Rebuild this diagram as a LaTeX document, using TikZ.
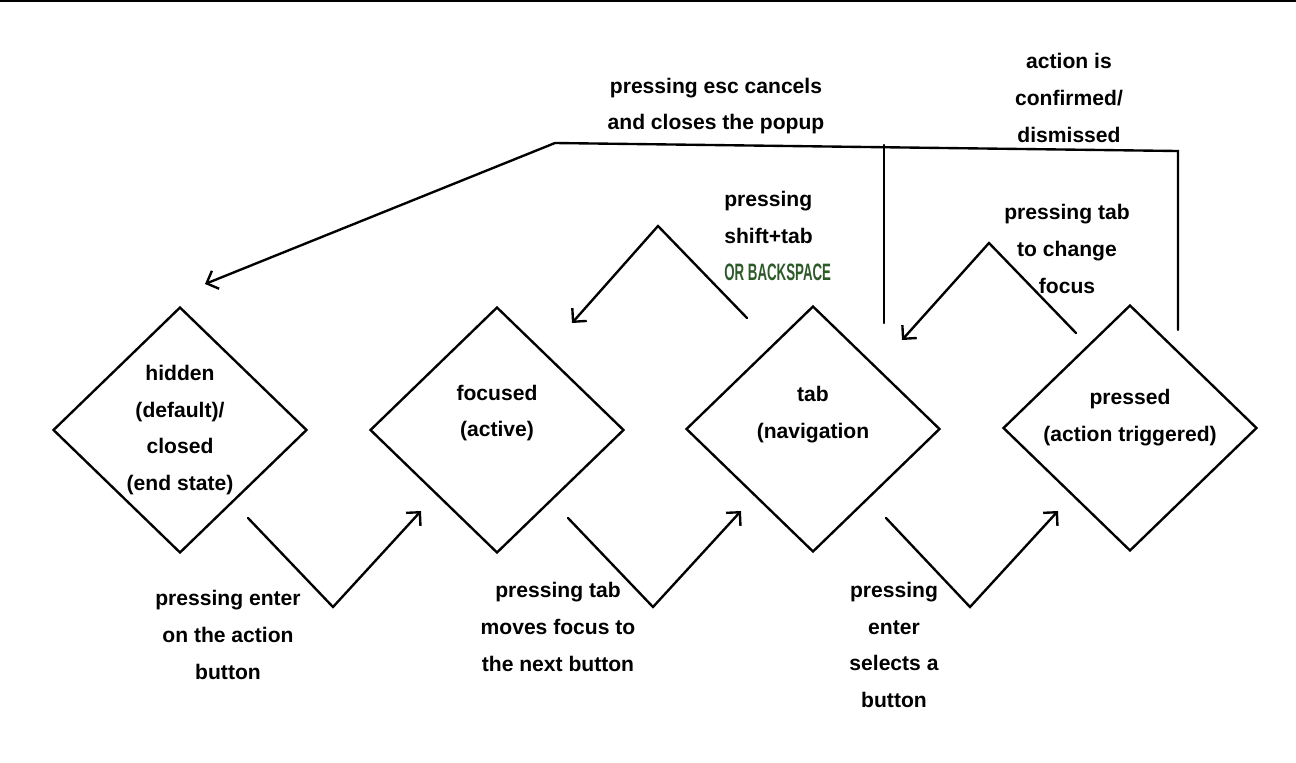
\documentclass[tikz,border=0pt]{standalone}
\usepackage{fontspec}
\setmainfont{Liberation Sans}
\usetikzlibrary{shapes.geometric, arrows.meta, positioning, calc}
\definecolor{bsgreen}{HTML}{2E5A2A}

\begin{document}
\begin{tikzpicture}[x=0.02cm, y=-0.02cm,
    state/.style={diamond, draw, line width=1.35pt, minimum width=5.08cm, minimum height=4.92cm, inner sep=0pt},
    lbl/.style={align=center, inner sep=0pt, font=\fontsize{12}{21}\selectfont\bfseries},
    flow/.style={line width=1.35pt, line cap=round, line join=miter},
    arr/.style={flow, -{Straight Barb[length=5.5pt, width=11pt, line width=1.35pt]}}]

    \useasboundingbox (0,0) rectangle (1296,762);
    \draw[line width=1.5pt] (0,1) -- (1296,1);

    % Define states
    \node[state] (hidden) at (180,430) {};
    \node[state] (focused) at (497,430) {};
    \node[state] (tab) at (813,429) {};
    \node[state] (pressed) at (1130,428) {};
    \node[lbl] (hiddentxt) at (hidden) {hidden\\(default)/\\closed\\(end state)};
    \node[lbl] (focusedtxt) at ($(focused)+(0,-17)$) {focused\\(active)};
    \node[lbl] (tabtxt) at ($(tab)+(0,-14)$) {tab\\(navigation};
    \node[lbl] (pressedtxt) at ($(pressed)+(0,-10)$) {pressed\\(action triggered)};

    % Free ends of the connectors
    \coordinate (h1) at ($(hidden)+(68,88)$);
    \coordinate (h2) at ($(hidden)+(153,177)$);
    \coordinate (f0) at ($(focused)+(-76,81)$);
    \coordinate (f1) at ($(focused)+(71,88)$);
    \coordinate (f2) at ($(focused)+(156,177)$);
    \coordinate (f3) at ($(focused)+(75,-107)$);
    \coordinate (t0) at ($(tab)+(-72,82)$);
    \coordinate (t1) at ($(tab)+(73,89)$);
    \coordinate (t2) at ($(tab)+(157,178)$);
    \coordinate (t3) at ($(tab)+(-66,-111)$);
    \coordinate (t4) at ($(tab)+(-155,-203)$);
    \coordinate (t5) at ($(tab)+(71,-106)$);
    \coordinate (t6) at ($(tab)+(71,-284)$);
    \coordinate (p0) at ($(pressed)+(-72,83)$);
    \coordinate (p1) at ($(pressed)+(-54,-95)$);
    \coordinate (p2) at ($(pressed)+(-141,-185)$);
    \coordinate (p3) at ($(pressed)+(-228,-88)$);
    \coordinate (p4) at ($(pressed)+(48,-98)$);
    \coordinate (p5) at ($(pressed)+(48,-277)$);
    \coordinate (c0) at ($(hidden)+(375,-287)$);
    \coordinate (c1) at ($(hidden)+(25,-146)$);

    % Forward transitions
    \draw[arr] (h1) -- (h2) -- (f0);
    \draw[arr] (f1) -- (f2) -- (t0);
    \draw[arr] (t1) -- (t2) -- (p0);

    % Backward transitions
    \draw[arr] (t3) -- (t4) -- (f3);
    \draw[arr] (p1) -- (p2) -- (p3);

    % Closing the popup
    \draw[arr] (p4) -- (p5) -- (c0) -- (c1);
    \draw[flow] (t5) -- (t6);

    % Labels
    \node[lbl] (enterlbl) at (228,635) {pressing enter\\on the action\\button};
    \node[lbl] (tablbl) at (558,627) {pressing tab\\moves focus to\\the next button};
    \node[lbl] (selectlbl) at (894,645) {pressing\\enter\\selects a\\button};
    \node[lbl, align=left, anchor=west] (backlbl) at (724,236) {pressing\\shift+tab\\{\color{bsgreen}\fontsize{13.5}{21}\selectfont\scalebox{0.56}[1]{OR BACKSPACE}}};
    \node[lbl] (changelbl) at (1067,249) {pressing tab\\to change\\focus};
    \node[lbl] (esclbl) at (716,106) {pressing esc cancels\\and closes the popup};
    \node[lbl] (donelbl) at (1069,98) {action is\\confirmed/\\dismissed};
\end{tikzpicture}
\end{document}
